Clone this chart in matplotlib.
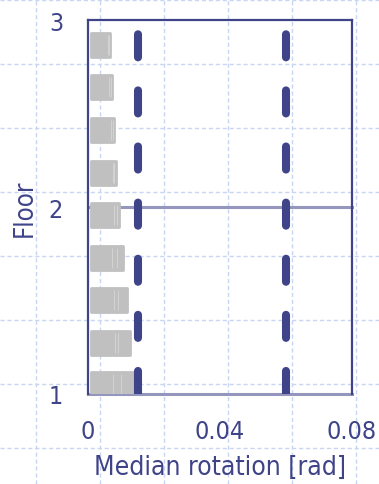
import matplotlib
matplotlib.use("Agg")
import matplotlib.pyplot as plt
from matplotlib.lines import Line2D

# Story levels (floor units) at which median rotations are reported
levels = [1.053, 1.273, 1.503, 1.727, 1.957, 2.180, 2.410, 2.640, 2.866]
# Median rotations [rad] for three record sets, per level (bottom to top)
rot_low = [0.0076, 0.0082, 0.0080, 0.0072, 0.0080, 0.0075, 0.0070, 0.0065, 0.0060]
rot_mid = [0.0100, 0.0091, 0.0091, 0.0089, 0.0088, 0.0080, 0.0075, 0.0070, 0.0064]
rot_high = [0.0136, 0.0127, 0.0118, 0.0106, 0.0094, 0.0085, 0.0079, 0.0073, 0.0067]
# Rotation limits [rad]
limits = [0.015, 0.06]
# Floors and axis ticks
floors = [1, 2, 3]
x_ticks = [0, 0.04, 0.08]
x_tick_labels = ["0", "0.04", "0.08"]

NAVY = "#3f4489"
FLOOR_LINE = "#9496bd"
GREY = "#c0c0c0"
FONT = dict(family="DejaVu Sans", stretch="condensed")

plt.rcParams["lines.scale_dashes"] = False

W, H, DPI = 379, 485, 100
fig = plt.figure(figsize=(W / DPI, H / DPI), dpi=DPI, facecolor="white")

# Background slide grid (light dashed lines across the whole figure)
for px in range(36, W, 64):
    fig.add_artist(Line2D([px / W, px / W], [0, 1], transform=fig.transFigure,
                          color="#c8d6f4", lw=1.0, dashes=(3, 2), zorder=0))
for py in range(1, H, 64):
    yf = 1 - py / H
    fig.add_artist(Line2D([0, 1], [yf, yf], transform=fig.transFigure,
                          color="#c8d6f4", lw=1.0, dashes=(3, 2), zorder=0))

ax = fig.add_axes([88 / W, (H - 395) / H, (352 - 88) / W, (395 - 21) / H])
ax.patch.set_alpha(0)
ax.set_xlim(x_ticks[0], x_ticks[-1])
ax.set_ylim(floors[0], floors[-1])

# Floor lines
for f in floors[:-1]:
    ax.axhline(f, color=FLOOR_LINE, lw=2.2, zorder=2, clip_on=False)

# Median rotation blocks per level
bar_h = 0.128
gap = 0.0009
ax.barh(levels, [v - gap for v in rot_high], left=gap, height=bar_h,
        color=GREY, edgecolor=GREY, linewidth=2.0, joinstyle="round", zorder=3)
for vals in (rot_low, rot_mid):
    ax.vlines(vals, [y - bar_h / 2 + 0.01 for y in levels],
              [y + bar_h / 2 - 0.01 for y in levels],
              color="#d2d2d2", lw=0.8, zorder=4)

# Rotation limits
for lim in limits:
    ax.plot([lim, lim], [floors[0], floors[-1]], color=NAVY, lw=5.8,
            dashes=(16.6, 23.8), dash_capstyle="round", zorder=5)

# Spines
for side in ("left", "top", "right"):
    ax.spines[side].set_color(NAVY)
    ax.spines[side].set_linewidth(1.6)
ax.spines["bottom"].set_visible(False)

ax.set_xticks(x_ticks)
ax.set_xticklabels(x_tick_labels)
ax.set_yticks(floors)
ax.set_yticklabels([str(f) for f in floors])
ax.tick_params(length=0, colors=NAVY, labelsize=18)
ax.tick_params(axis="x", pad=18)
ax.tick_params(axis="y", pad=18)
for lbl in ax.get_xticklabels() + ax.get_yticklabels():
    lbl.set_fontfamily(FONT["family"])
    lbl.set_fontstretch(FONT["stretch"])

ax.set_xlabel("Median rotation [rad]", color=NAVY, fontsize=19, labelpad=8, **FONT)
ax.set_ylabel("Floor", color=NAVY, fontsize=18.5, labelpad=8, **FONT)
ax.yaxis.set_label_coords(-0.19, 0.5)

fig.savefig("out.png", dpi=DPI, facecolor="white")
